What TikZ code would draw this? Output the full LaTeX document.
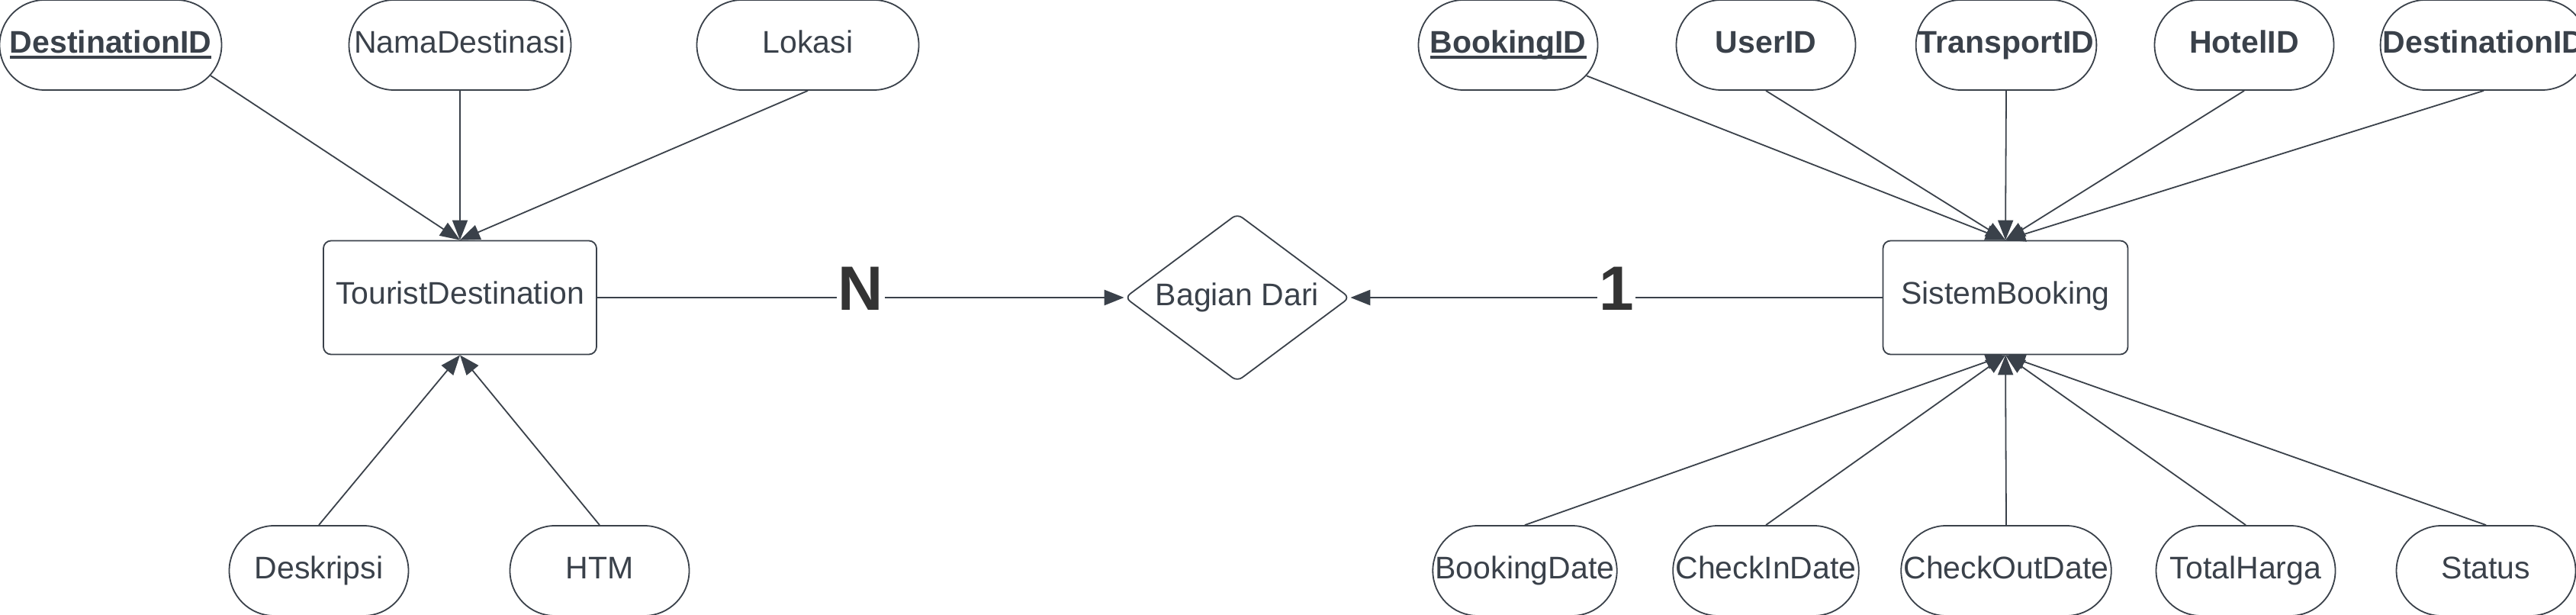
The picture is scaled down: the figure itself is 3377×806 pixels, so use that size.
\documentclass[tikz,border=0pt]{standalone}
\usepackage{fontspec}
\setmainfont{Liberation Sans}
\usepackage{xcolor}
\usetikzlibrary{arrows.meta,shapes.geometric,shapes.misc}
\definecolor{erline}{HTML}{3A414A}
\definecolor{ertext}{HTML}{3A414A}
\tikzset{font=\fontsize{20.5}{24}\selectfont}
\tikzstyle{attr}=[rounded rectangle,draw=erline,line width=0.9pt,text=ertext,minimum height=59pt,inner sep=0pt,text height=15pt,text depth=4.5pt]
\tikzstyle{attrwide}=[attr,minimum width=145.5pt]
\tikzstyle{attrnarrow}=[attr,minimum width=117.5pt]
\tikzstyle{entity}=[rectangle,rounded corners=5pt,draw=erline,line width=0.9pt,text=ertext,minimum height=74.5pt,inner sep=0pt,text height=15pt,text depth=6.5pt]
\tikzstyle{rel}=[diamond,shape aspect=1.34,rounded corners=4pt,draw=erline,line width=0.9pt,text=ertext,minimum width=147.5pt,minimum height=110pt,inner sep=0pt]
\tikzstyle{link}=[color=erline,line width=0.9pt]
\tikzstyle{card}=[fill=white,inner sep=1pt,text=black!80,font=\fontsize{41}{48}\selectfont\bfseries,yshift=6pt]
\newlength\pklen
\newcommand\pk[1]{\settowidth{\pklen}{\bfseries #1}{\bfseries #1}\hspace{-\pklen}\rule[-3.8pt]{\pklen}{1.8pt}}

\begin{document}
\begin{tikzpicture}
  [x=0.5pt,y=-0.5pt,>={Triangle[length=13pt,width=10pt]}]
  \useasboundingbox (0,0) rectangle (3377,806);
  % TouristDestination
  \node [style=entity,minimum width=179pt] (td) at (603,390) {TouristDestination};
  \node [style=attrwide] (td1) at (145,59) {\pk{DestinationID}};
  \node [style=attrwide] (td2) at (603,59) {NamaDestinasi};
  \node [style=attrwide] (td3) at (1059,59) {Lokasi};
  \node [style=attrnarrow] (td4) at (418,748) {Deskripsi};
  \node [style=attrnarrow] (td5) at (786,748) {HTM};
  % relasi
  \node [style=rel] (r1) at (1622,390) {Bagian Dari};
  % SistemBooking
  \node [style=entity,minimum width=160.5pt] (sb) at (2629,390) {SistemBooking};
  \node [style=attrnarrow] (sb1) at (1977,59) {\pk{BookingID}};
  \node [style=attrnarrow] (sb2) at (2315,59) {\textbf{UserID}};
  \node [style=attrnarrow] (sb3) at (2630,59) {\textbf{TransportID}};
  \node [style=attrnarrow] (sb4) at (2942,59) {\textbf{HotelID}};
  \node [style=attrnarrow] (sb5) at (3256,59) {\textbf{DestinationID}};
  \node [style=attrnarrow] (sb6) at (1999,748) {BookingDate};
  \node [style=attrnarrow] (sb7) at (2315,748) {CheckInDate};
  \node [style=attrnarrow] (sb8) at (2630,748) {CheckOutDate};
  \node [style=attrnarrow] (sb9) at (2944,748) {TotalHarga};
  \node [style=attrnarrow] (sb10) at (3259,748) {Status};
\path[->,style=link]
(td1.-17) edge (td.north)
(td2.south) edge (td.north)
(td3.south) edge (td.north)
(td4.north) edge (td.south)
(td5.north) edge (td.south)
(sb1) edge (sb.north)
(sb2.south) edge (sb.north)
(sb3.south) edge (sb.north)
(sb4.south) edge (sb.north)
(sb5.south) edge (sb.north)
(sb6.north) edge (sb.south)
(sb7.north) edge (sb.south)
(sb8.north) edge (sb.south)
(sb9.north) edge (sb.south)
(sb10.north) edge (sb.south);
\path[->,style=link,line width=1.3pt]
(td.east) edge node[style=card]{N} (r1.west)
(sb.west) edge node[style=card]{1} (r1.east);
\end{tikzpicture}
\end{document}
